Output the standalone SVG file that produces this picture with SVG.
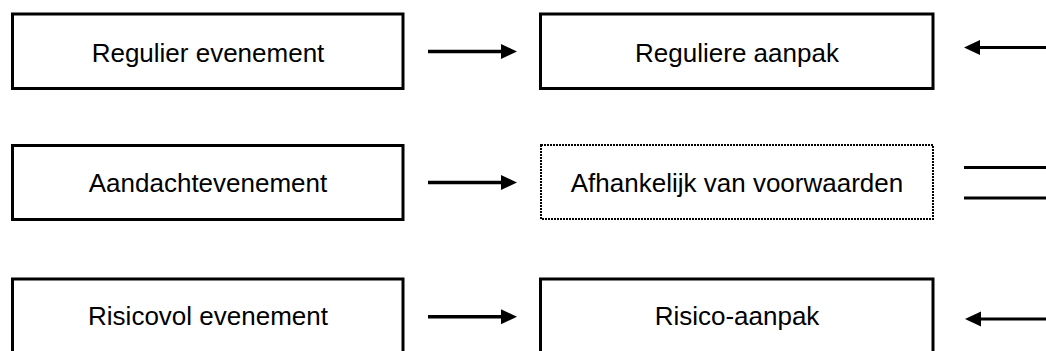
<svg xmlns="http://www.w3.org/2000/svg" width="1046" height="351" viewBox="0 0 1046 351">
  <style>
    .box { fill: #ffffff; stroke: #000000; stroke-width: 3; }
    .dotted { fill: #ffffff; stroke: #000000; stroke-width: 2; stroke-dasharray: 2 1; }
    .label { font-family: "Liberation Sans", Arial, sans-serif; font-size: 26px; fill: #000000; text-anchor: middle; }
    .conn { stroke: #000000; stroke-width: 3.5; fill: none; }
    .plain { stroke: #000000; stroke-width: 3; fill: none; }
  </style>
  <defs>
    <marker id="head" markerUnits="userSpaceOnUse" markerWidth="18" markerHeight="16" refX="4" refY="7.5" orient="auto" overflow="visible">
      <path d="M0,0 L16,7.5 L0,15 Z" fill="#000000"/>
    </marker>
  </defs>
  <rect width="1046" height="351" fill="#ffffff"/>

  <g id="node-regulier-evenement">
    <rect class="box" x="12.5" y="14" width="390.5" height="74.5"/>
    <text class="label" x="208" y="61.5">Regulier evenement</text>
  </g>
  <g id="node-reguliere-aanpak">
    <rect class="box" x="540.5" y="14" width="392.5" height="74.5"/>
    <text class="label" x="737" y="61.5">Reguliere aanpak</text>
  </g>
  <g id="node-aandachtevenement">
    <rect class="box" x="12.5" y="145.5" width="390.5" height="74"/>
    <text class="label" x="208" y="191.5">Aandachtevenement</text>
  </g>
  <g id="node-afhankelijk">
    <rect class="dotted" x="541" y="145" width="392" height="74"/>
    <text class="label" x="737" y="191.5">Afhankelijk van voorwaarden</text>
  </g>
  <g id="node-risicovol-evenement">
    <rect class="box" x="12.5" y="279" width="390.5" height="80"/>
    <text class="label" x="208" y="325">Risicovol evenement</text>
  </g>
  <g id="node-risico-aanpak">
    <rect class="box" x="540.5" y="279" width="392.5" height="80"/>
    <text class="label" x="737" y="325">Risico-aanpak</text>
  </g>

  <g id="connectors">
    <line class="conn" x1="428" y1="51.5" x2="505" y2="51.5" marker-end="url(#head)"/>
    <line class="conn" x1="428" y1="182.5" x2="505" y2="182.5" marker-end="url(#head)"/>
    <line class="conn" x1="428" y1="316.8" x2="505" y2="316.8" marker-end="url(#head)"/>
    <line class="plain" x1="1046" y1="47.5" x2="976" y2="47.5" marker-end="url(#head)"/>
    <line class="plain" x1="1046" y1="319" x2="977" y2="319" marker-end="url(#head)"/>
    <line class="plain" x1="964" y1="167.5" x2="1046" y2="167.5"/>
    <line class="plain" x1="964" y1="198" x2="1046" y2="198"/>
  </g>
</svg>
